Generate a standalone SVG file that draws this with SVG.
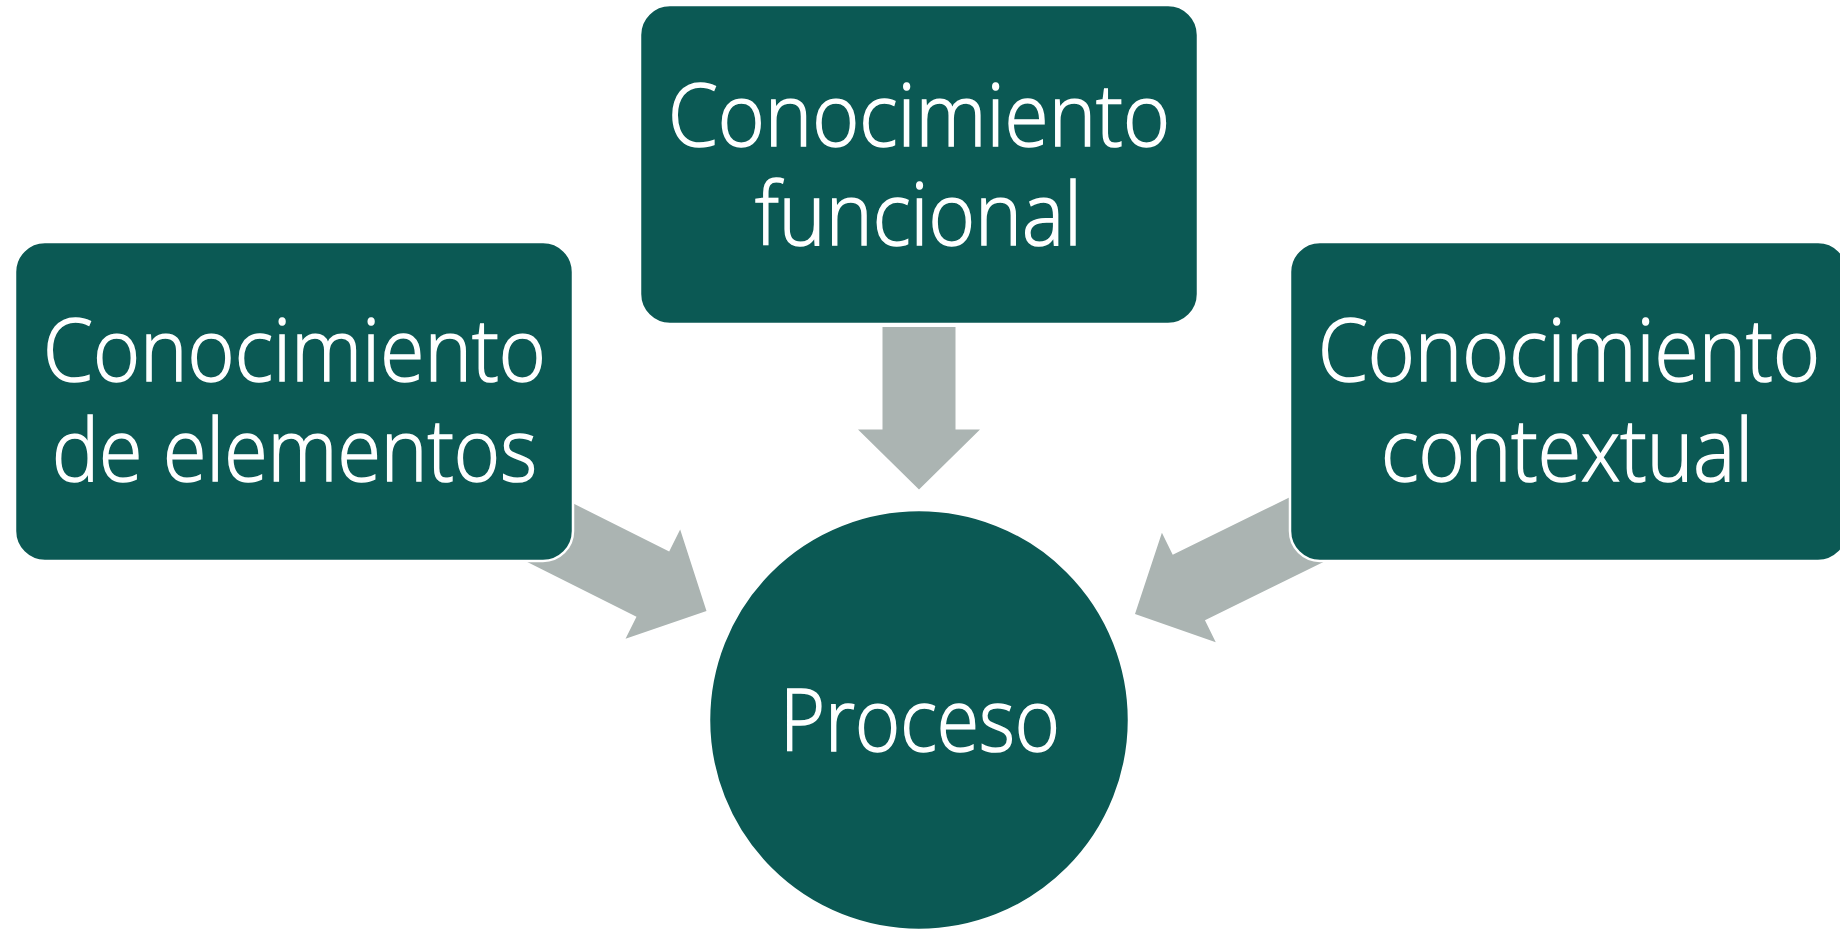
<svg xmlns="http://www.w3.org/2000/svg" width="1840" height="929" viewBox="0 0 1840 929">
<defs>
<style>
.box{fill:#0B5954;stroke:#FFFFFF;stroke-width:2.5}
.arr{fill:#ABB4B2}
.t{font-family:"Open Sans","Noto Sans","Liberation Sans",sans-serif;font-size:87px;font-weight:300;fill:#FFFFFF;stroke:#FFFFFF;stroke-width:1.6;text-anchor:middle}
</style>
<path id="arrowShape" d="M -36.5,-200 L 36.5,-200 L 36.5,-60 L 61,-60 L 0,0 L -61,-60 L -36.5,-60 Z"/>
</defs>
<rect width="1840" height="929" fill="#FFFFFF"/>
<g id="connectors">
<path class="arr" d="M 882.5,327 L 955.5,327 L 955.5,429.5 L 980,429.5 L 919,489.5 L 858,429.5 L 882.5,429.5 Z"/>
<use href="#arrowShape" class="arr" transform="translate(706.5,611) rotate(-63.4)"/>
<use href="#arrowShape" class="arr" transform="translate(1135,614) rotate(63.8)"/>
</g>
<g id="node-elementos">
<rect class="box" x="15" y="242" width="558" height="319" rx="30" ry="30"/>
<text class="t"><tspan x="294.5" y="381" textLength="503" lengthAdjust="spacingAndGlyphs">Conocimiento</tspan><tspan x="294.5" y="481" textLength="485" lengthAdjust="spacingAndGlyphs">de elementos</tspan></text>
</g>
<g id="node-funcional">
<rect class="box" x="640" y="5" width="558" height="319" rx="30" ry="30"/>
<text class="t"><tspan x="919" y="145.5" textLength="502" lengthAdjust="spacingAndGlyphs">Conocimiento</tspan><tspan x="918.5" y="245" textLength="327" lengthAdjust="spacingAndGlyphs">funcional</tspan></text>
</g>
<g id="node-contextual">
<rect class="box" x="1290" y="242" width="558" height="319" rx="30" ry="30"/>
<text class="t"><tspan x="1569" y="381" textLength="502" lengthAdjust="spacingAndGlyphs">Conocimiento</tspan><tspan x="1567" y="481" textLength="372" lengthAdjust="spacingAndGlyphs">contextual</tspan></text>
</g>
<g id="node-proceso">
<circle class="box" cx="919" cy="720" r="210" stroke="none"/>
<text class="t" x="920" y="751" textLength="280" lengthAdjust="spacingAndGlyphs">Proceso</text>
</g>
</svg>
